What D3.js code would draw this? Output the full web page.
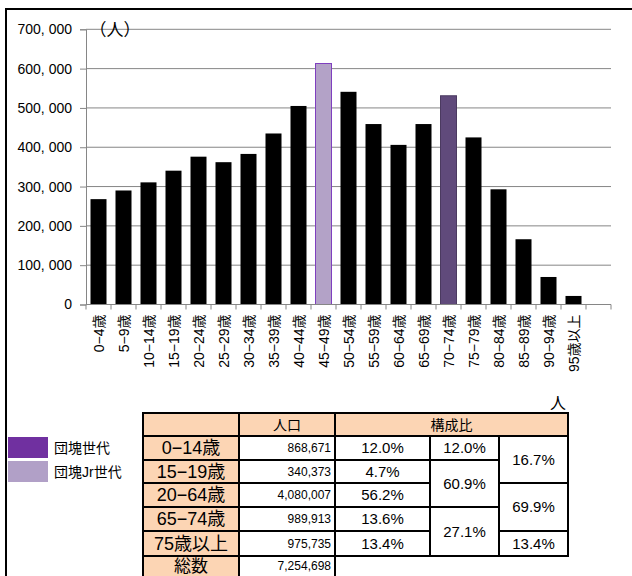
<!DOCTYPE html>
<html>
<head>
<meta charset="utf-8">
<script src="https://cdn.jsdelivr.net/npm/d3@7/dist/d3.min.js"></script>
<style>
  body { margin: 0; background: #fff; }
  text { font-family: "Liberation Sans", "Noto Sans CJK JP", sans-serif; }
</style>
</head>
<body>
<svg id="chart" width="632" height="576"></svg>
<script>
// Population by five-year age group
const ageGroups = ["0−4歳","5−9歳","10−14歳","15−19歳","20−24歳","25−29歳","30−34歳","35−39歳",
  "40−44歳","45−49歳","50−54歳","55−59歳","60−64歳","65−69歳","70−74歳","75−79歳",
  "80−84歳","85−89歳","90−94歳","95歳以上"];
const population = [268000, 290000, 310671, 340373, 376000, 362000, 383000, 435000,
  505000, 613000, 541000, 459000, 406007, 459000, 530913, 425000,
  293000, 166000, 70000, 21735];
const yTicks = [0, 100000, 200000, 300000, 400000, 500000, 600000, 700000];

// Highlighted generations
const boomerGroup = "70−74歳";
const juniorGroup = "45−49歳";
const legendLabels = ["団塊世代", "団塊Jr世代"];

// Summary table
const tableGroups = ["0−14歳", "15−19歳", "20−64歳", "65−74歳", "75歳以上"];
const tablePopulation = [868671, 340373, 4080007, 989913, 975735];
const totalPopulation = 7254698;
const shareByGroup = [12.0, 4.7, 56.2, 13.6, 13.4];
const shareThreeBands = [12.0, 60.9, 27.1];
const shareThreeSpans = [1, 2, 2];
const shareAltBands = [16.7, 69.9, 13.4];
const shareAltSpans = [2, 2, 1];

const svg = d3.select("#chart");

// Outer frame (left and top edges)
svg.append("line").attr("x1", 6).attr("x2", 6).attr("y1", 9).attr("y2", 576)
  .attr("stroke", "#000").attr("stroke-width", 2);
svg.append("line").attr("x1", 5).attr("x2", 632).attr("y1", 9).attr("y2", 9)
  .attr("stroke", "#000").attr("stroke-width", 2);

const plot = { left: 86, right: 611, top: 29.3, bottom: 304.5 };

const x = d3.scaleBand()
  .domain(ageGroups.concat([" "]))
  .range([plot.left, plot.right])
  .paddingInner(0.36)
  .paddingOuter(0.18);

const y = d3.scaleLinear().domain([0, 700000]).range([plot.bottom, plot.top]);

// Gridlines
svg.append("g").selectAll("line").data(yTicks.filter(d => d > 0)).join("line")
  .attr("x1", plot.left).attr("x2", plot.right)
  .attr("y1", d => y(d)).attr("y2", d => y(d))
  .attr("stroke", "#868686").attr("stroke-width", 1);

// Y axis
const fmtY = d => d3.format(",")(d).replace(",", ", ");
const yAxis = svg.append("g")
  .attr("transform", `translate(${plot.left},0)`)
  .call(d3.axisLeft(y).tickValues(yTicks).tickFormat(fmtY).tickSize(6).tickPadding(8));
yAxis.select(".domain").attr("stroke", "#868686");
yAxis.selectAll(".tick line").attr("stroke", "#868686");
yAxis.selectAll(".tick text").attr("fill", "#000").style("font-size", "14px")
  .style("font-family", "'Liberation Sans', sans-serif");

// Bars
const step = x.step();
svg.append("g").selectAll("rect").data(ageGroups).join("rect")
  .attr("x", d => x(d))
  .attr("width", x.bandwidth())
  .attr("y", (d, i) => y(population[i]))
  .attr("height", (d, i) => y(0) - y(population[i]))
  .attr("fill", d => d === juniorGroup ? "#b3a2c7" : d === boomerGroup ? "#604a7b" : "#000")
  .attr("stroke", d => d === juniorGroup ? "#7f3fbf" : d === boomerGroup ? "#4b3a60" : "none")
  .attr("stroke-width", 1);

// X axis with boundary ticks
const xAxisG = svg.append("g");
xAxisG.append("line").attr("x1", plot.left).attr("x2", plot.right)
  .attr("y1", y(0)).attr("y2", y(0)).attr("stroke", "#868686");
const boundaries = d3.range(x.domain().length + 1).map(i => plot.left + i * step);
xAxisG.selectAll("line.tk").data(boundaries).join("line").attr("class", "tk")
  .attr("x1", d => d).attr("x2", d => d)
  .attr("y1", y(0)).attr("y2", y(0) + 5).attr("stroke", "#868686");
xAxisG.selectAll("text").data(ageGroups).join("text")
  .attr("transform", d => `translate(${x(d) + x.bandwidth() / 2 + 5},${y(0) + 10}) rotate(-90)`)
  .attr("text-anchor", "end")
  .style("font-size", "14px")
  .attr("fill", "#000")
  .text(d => d);

// Unit label
svg.append("text").attr("x", 115).attr("y", 36).attr("text-anchor", "middle")
  .style("font-size", "17px").text("（人）");

// Legend
const legendColors = ["#7030a0", "#b1a0c7"];
const legend = svg.append("g");
legendLabels.forEach((lab, i) => {
  legend.append("rect").attr("x", 8).attr("y", 437 + i * 24).attr("width", 40).attr("height", 21)
    .attr("fill", legendColors[i]);
  legend.append("text").attr("x", 54).attr("y", 453 + i * 24)
    .style("font-size", "14px").text(lab);
});

// Table
const colX = [143, 239, 335, 430, 499, 568];
const rowY = [413, 436, 460, 483, 507, 531, 556, 580];
const peach = "#fcd5b4";
const table = svg.append("g");
function cell(c0, c1, r0, r1, fill) {
  table.append("rect").attr("x", colX[c0]).attr("y", rowY[r0])
    .attr("width", colX[c1] - colX[c0]).attr("height", rowY[r1] - rowY[r0])
    .attr("fill", fill).attr("stroke", "#000").attr("stroke-width", 2);
}
function label(txt, xPos, cy, size, anchor) {
  table.append("text").attr("x", xPos).attr("y", cy)
    .attr("dy", "0.36em").attr("text-anchor", anchor || "middle")
    .style("font-size", size + "px").text(txt);
}
const mid = (r0, r1) => (rowY[r0] + rowY[r1]) / 2;

// header row
cell(0, 1, 0, 1, peach);
cell(1, 2, 0, 1, peach);
cell(2, 5, 0, 1, peach);
label("人口", (colX[1] + colX[2]) / 2, mid(0, 1), 14);
label("構成比", (colX[2] + colX[5]) / 2, mid(0, 1), 14);

const fmtN = d3.format(",");
const fmtP = d => d.toFixed(1) + "%";
tableGroups.forEach((g, i) => {
  cell(0, 1, i + 1, i + 2, peach);
  cell(1, 2, i + 1, i + 2, "#fff");
  cell(2, 3, i + 1, i + 2, "#fff");
  label(g, (colX[0] + colX[1]) / 2, mid(i + 1, i + 2), 18);
  label(fmtN(tablePopulation[i]), colX[2] - 4, mid(i + 1, i + 2), 12, "end");
  label(fmtP(shareByGroup[i]), (colX[2] + colX[3]) / 2, mid(i + 1, i + 2), 15);
});
let r = 1;
shareThreeBands.forEach((v, i) => {
  cell(3, 4, r, r + shareThreeSpans[i], "#fff");
  label(fmtP(v), (colX[3] + colX[4]) / 2, mid(r, r + shareThreeSpans[i]), 15);
  r += shareThreeSpans[i];
});
r = 1;
shareAltBands.forEach((v, i) => {
  cell(4, 5, r, r + shareAltSpans[i], "#fff");
  label(fmtP(v), (colX[4] + colX[5]) / 2, mid(r, r + shareAltSpans[i]), 15);
  r += shareAltSpans[i];
});
// total row
cell(0, 1, 6, 7, peach);
cell(1, 2, 6, 7, "#fff");
label("総数", (colX[0] + colX[1]) / 2, 566, 17);
label(fmtN(totalPopulation), colX[2] - 4, 566, 12, "end");

// unit mark above table
svg.append("text").attr("x", 558).attr("y", 409).attr("text-anchor", "middle")
  .style("font-size", "16px").text("人");
</script>
</body>
</html>
